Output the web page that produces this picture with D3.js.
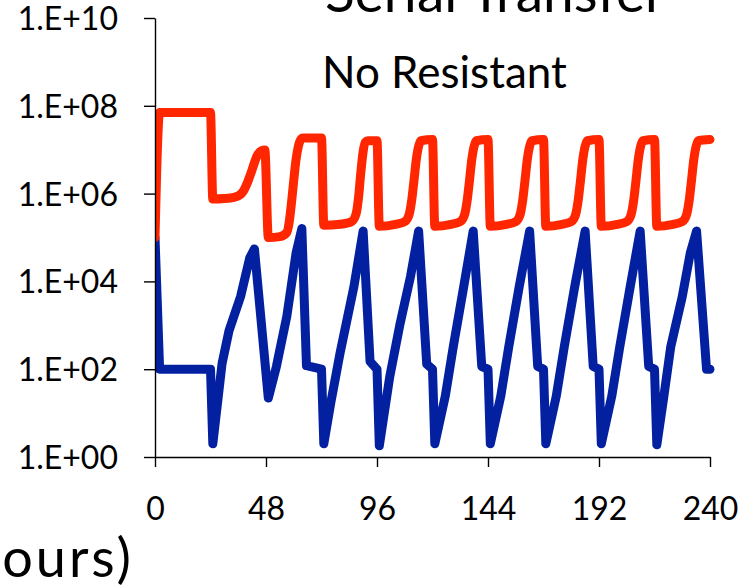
<!DOCTYPE html>
<html>
<head>
<meta charset="utf-8">
<script src="https://cdn.jsdelivr.net/npm/d3@7"></script>
<style>
  html, body { margin: 0; padding: 0; background: #ffffff; }
  svg { display: block; }
  text { font-family: Lato, "Noto Sans", sans-serif; fill: #000; }
</style>
</head>
<body>
<svg id="chart" width="746" height="587"></svg>
<script>
// Sampling times (hours) and counts for the upper (red) population
const redTimes = [
  0, 2, 24,
  25, 30, 35, 38, 40, 42, 44, 46, 47.5, 49,
  54, 57, 58, 59, 60, 61, 62, 63, 64, 72,
  73, 80, 85, 87, 88, 89, 90, 91, 92, 96,
  97, 104, 108, 109, 110, 111, 112, 113, 114, 115, 120,
  121, 128, 132, 133, 134, 135, 136, 137, 138, 139, 144,
  145, 152, 156, 157, 158, 159, 160, 161, 162, 163, 168,
  169, 176, 180, 181, 182, 183, 184, 185, 186, 187, 192,
  193, 200, 204, 205, 206, 207, 208, 209, 210, 211, 216,
  217, 224, 228, 229, 230, 231, 232, 233, 234, 235, 240
];
const redValues = [
  1e5, 7e7, 7e7,
  7.5e5, 7.7e5, 8.5e5, 1.1e6, 1.8e6, 3.5e6, 7e6, 9.5e6, 9.8e6, 1e5,
  1.05e5, 1.3e5, 2.2e5, 6e5, 2e6, 6e6, 1.2e7, 1.7e7, 1.85e7, 1.85e7,
  1.9e5, 2.0e5, 2.3e5, 3.5e5, 8e5, 3e6, 9e6, 1.5e7, 1.6e7, 1.6e7,
  1.8e5, 2.0e5, 2.3e5, 2.6e5, 3.5e5, 7e5, 2e6, 6e6, 1.2e7, 1.6e7, 1.7e7,
  1.8e5, 2.0e5, 2.3e5, 2.6e5, 3.5e5, 7e5, 2e6, 6e6, 1.2e7, 1.6e7, 1.7e7,
  1.8e5, 2.0e5, 2.3e5, 2.6e5, 3.5e5, 7e5, 2e6, 6e6, 1.2e7, 1.6e7, 1.7e7,
  1.8e5, 2.0e5, 2.3e5, 2.6e5, 3.5e5, 7e5, 2e6, 6e6, 1.2e7, 1.6e7, 1.7e7,
  1.8e5, 2.0e5, 2.3e5, 2.6e5, 3.5e5, 7e5, 2e6, 6e6, 1.2e7, 1.6e7, 1.7e7,
  1.8e5, 2.0e5, 2.3e5, 2.6e5, 3.5e5, 7e5, 2e6, 6e6, 1.2e7, 1.6e7, 1.7e7
];

// Sampling times (hours) and counts for the lower (blue) population
const blueTimes = [
  0, 2, 24,
  25, 29, 32, 37, 41, 43, 49,
  52.5, 57, 61, 63.5, 65.5, 72,
  73, 76, 80, 86, 90, 93, 96,
  97, 101.5, 106, 110.5, 114, 117.5, 120,
  121, 125.5, 129, 133.5, 137.6, 141.3, 144,
  145, 149.5, 153, 157.5, 162, 165.5, 168,
  169, 173.5, 177, 181.5, 186, 189.5, 192,
  193, 197.5, 201, 205.5, 209.8, 213.5, 216,
  217, 220, 223, 228, 231.5, 234.2, 238.5, 240
];
const blueValues = [
  1e5, 100, 100,
  2, 135, 750, 4500, 3.5e4, 5.5e4, 22,
  115, 1600, 4.4e4, 1.6e5, 120, 100,
  2, 17, 230, 7500, 1.4e5, 150, 100,
  1.8, 67, 1100, 1.3e4, 1.4e5, 130, 100,
  2, 24, 330, 7600, 1.4e5, 115, 100,
  2, 24, 330, 7600, 1.4e5, 115, 100,
  2, 24, 330, 7600, 1.4e5, 115, 100,
  2, 24, 330, 7600, 1.4e5, 115, 100,
  1.9, 23, 320, 4500, 4.5e4, 1.4e5, 100, 100
];

const xTicks = [0, 48, 96, 144, 192, 240];
const yTicks = [1, 1e2, 1e4, 1e6, 1e8, 1e10];
const yTickLabels = ["1.E+00", "1.E+02", "1.E+04", "1.E+06", "1.E+08", "1.E+10"];

const svg = d3.select("#chart");
const plotLeft = 155, plotRight = 710, plotTop = 18, plotBottom = 457;

const x = d3.scaleLinear().domain([0, 240]).range([plotLeft, plotRight]);
const y = d3.scaleLog().domain([1, 1e10]).range([plotBottom, plotTop]);

// Plot area clip so the series start flush with the vertical axis
svg.append("defs").append("clipPath").attr("id", "plotClip")
  .append("rect").attr("x", plotLeft).attr("y", 0)
  .attr("width", 746 - plotLeft).attr("height", 587);

const redData = redTimes.map((t, i) => [t, redValues[i]]);
const blueData = blueTimes.map((t, i) => [t, blueValues[i]]);

const plot = svg.append("g").attr("clip-path", "url(#plotClip)");

plot.append("path")
  .datum(blueData)
  .attr("fill", "none")
  .attr("stroke", "#0220a0")
  .attr("stroke-width", 9)
  .attr("stroke-linejoin", "round")
  .attr("stroke-linecap", "round")
  .attr("d", d3.line().x(d => x(d[0])).y(d => y(d[1])));

plot.append("path")
  .datum(redData)
  .attr("fill", "none")
  .attr("stroke", "#ff2600")
  .attr("stroke-width", 9)
  .attr("stroke-linejoin", "round")
  .attr("stroke-linecap", "round")
  .attr("d", d3.line().curve(d3.curveMonotoneX).x(d => x(d[0])).y(d => y(d[1])));

// Axes
const yAxis = d3.axisLeft(y)
  .tickValues(yTicks)
  .tickFormat((d, i) => yTickLabels[i])
  .tickSize(11)
  .tickSizeOuter(0);

const xAxis = d3.axisBottom(x)
  .tickValues(xTicks)
  .tickFormat(d3.format("d"))
  .tickSize(10)
  .tickSizeOuter(0);

const gy = svg.append("g").attr("transform", `translate(${plotLeft},0)`).call(yAxis);
const gx = svg.append("g").attr("transform", `translate(0,${plotBottom})`).call(xAxis);

[gx, gy].forEach(g => {
  g.selectAll("path.domain").attr("stroke", "#000").attr("stroke-width", 1.4);
  g.selectAll(".tick line").attr("stroke", "#000").attr("stroke-width", 1.4);
  g.selectAll(".tick text")
    .attr("fill", "#000")
    .style("font-family", "Lato, 'Noto Sans', sans-serif")
    .style("font-size", "32px");
});

gy.selectAll(".tick text").attr("x", -37).attr("dy", "0.36em");
gx.selectAll(".tick text").attr("y", 63).attr("dy", 0);

// Titles (the chart sits inside a larger slide, so the heading and the
// axis title run past the frame edges)
svg.append("text")
  .attr("x", 325).attr("y", 12)
  .style("font-size", "55px")
  .text("Serial Transfer");

svg.append("text")
  .attr("x", 322).attr("y", 88)
  .style("font-size", "44px")
  .text("No Resistant");

svg.append("text")
  .attr("x", 134).attr("y", 577)
  .attr("text-anchor", "end")
  .style("font-size", "54px")
  .style("letter-spacing", "3px")
  .text("Time (hours)");
</script>
</body>
</html>
